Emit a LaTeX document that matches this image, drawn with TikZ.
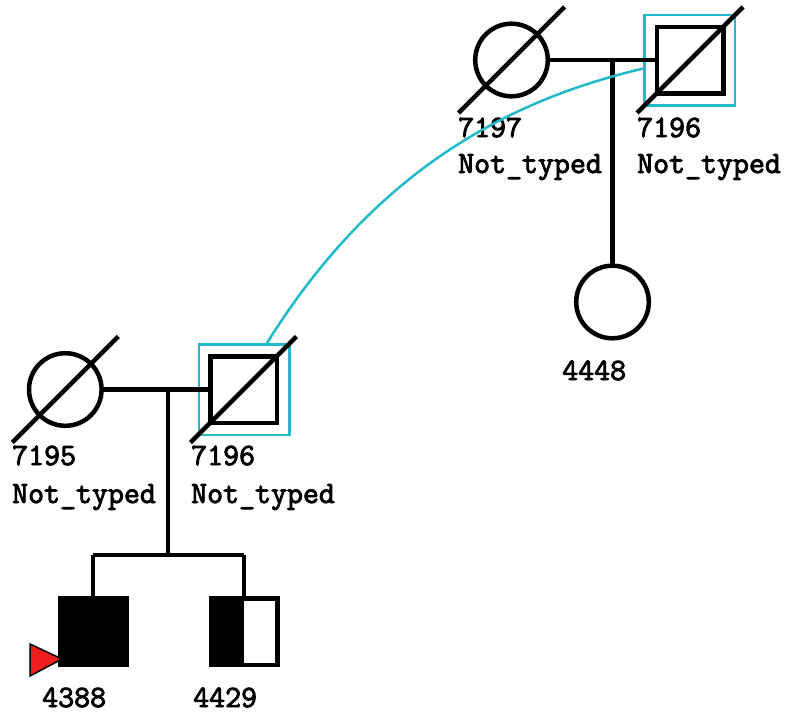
\documentclass[tikz,border=0pt]{standalone}
\usepackage{fontspec}
\newfontfamily\pedfont{Latin Modern Mono}[FakeBold=2.8]
\usetikzlibrary{calc}
\definecolor{pedcyan}{RGB}{32,186,200}
\definecolor{probred}{RGB}{238,30,30}
\begin{document}
\begin{tikzpicture}[x=1pt,y=-1pt,
  person/.style={draw, line width=4.5pt, inner sep=0pt, outer sep=0pt},
  female/.style={person, circle, minimum size=72.6pt},
  male/.style={person, rectangle, minimum size=66.5pt},
  hlbox/.style={draw=pedcyan, line width=2.5pt, rectangle, minimum size=90.5pt, inner sep=0pt, outer sep=0pt},
  lbl/.style={anchor=base west, font=\fontsize{31}{36}\selectfont\pedfont\bfseries, inner sep=0pt},
  rel/.style={line width=4.5pt},
  link/.style={draw=pedcyan, line width=2.5pt}
]
\useasboundingbox (0,0) rectangle (786,715);
% top generation
\node[hlbox] (hlA) at (689.5,60.3) {};
\node[female] (f7197) at (511.5,60) {};
\node[male] (m7196a) at (690,60) {};
\node[female] (c4448) at (612.5,302) {};
\draw[rel] ($(f7197)+(-53,53)$) -- ($(f7197)+(53,-53)$);
\draw[rel] ($(m7196a)+(-53,53)$) -- ($(m7196a)+(53,-53)$);
\draw[rel] (f7197.east) -- (m7196a.west);
\coordinate (jA) at (c4448.north |- f7197.east);
\draw[rel] (jA) -- (c4448.north);
\node[lbl] (l7197) at (458,137) {7197};
\node[lbl] (n7197) at (458,173) {Not\_typed};
\node[lbl] (l7196a) at (637,137) {7196};
\node[lbl] (n7196a) at (637,173) {Not\_typed};
\node[lbl] (l4448) at (562,380) {4448};
% bottom generation
\node[hlbox] (hlB) at (244,389.8) {};
\node[female] (f7195) at (65.3,389.5) {};
\node[male] (m7196b) at (243.5,389.5) {};
\draw[rel] ($(f7195)+(-53,53)$) -- ($(f7195)+(53,-53)$);
\draw[rel] ($(m7196b)+(-53,53)$) -- ($(m7196b)+(53,-53)$);
\draw[rel] (f7195.east) -- (m7196b.west);
\node[lbl] (l7195) at (12,465) {7195};
\node[lbl] (n7195) at (12,503) {Not\_typed};
\node[lbl] (l7196b) at (191,465) {7196};
\node[lbl] (n7196b) at (191,503) {Not\_typed};
% children
\node[male, fill=black] (c4388) at (93,631.5) {};
\node[male] (c4429) at (244,631.5) {};
\fill (c4429.north west) rectangle (c4429.south);
\node[lbl] (l4388) at (42,707) {4388};
\node[lbl] (l4429) at (193,707) {4429};
\coordinate (jB) at (168,389.5);
\coordinate (sib) at (168,555);
\draw[rel] (jB) -- (sib);
\draw[rel] (c4388.north |- sib) -- (c4429.north |- sib);
\draw[rel] (c4388.north |- sib) -- (c4388.north);
\draw[rel] (c4429.north |- sib) -- (c4429.north);
% proband arrow
\filldraw[fill=probred, draw=black, line width=1.5pt] (30,644) -- (30,676) -- (62,659) -- cycle;
% link between duplicate individuals
\draw[link] (hlB.64) .. controls (376,167) and (513,99) .. (hlA.190);
\end{tikzpicture}
\end{document}
